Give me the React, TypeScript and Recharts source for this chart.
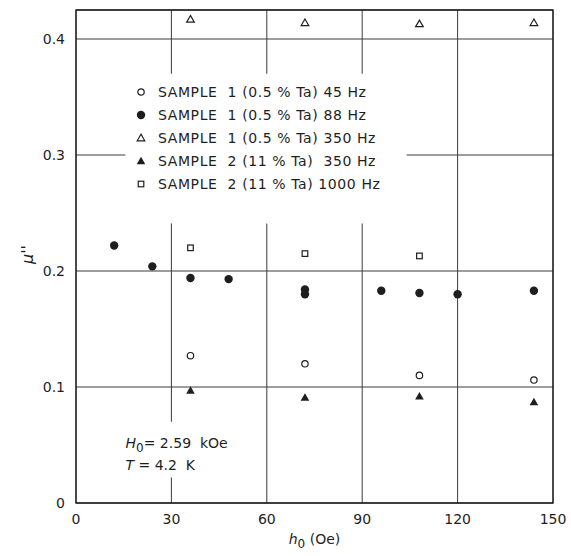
import React from "react";
import {
  CartesianGrid,
  Label,
  ReferenceArea,
  Scatter,
  ScatterChart,
  XAxis,
  YAxis,
} from "recharts";

// h0 (Oe) positions and mu'' readings, per series
const s1Hz45X = [36, 72, 108, 144];
const s1Hz45Y = [0.127, 0.12, 0.11, 0.106];

const s1Hz88X = [12, 24, 36, 48, 72, 72, 96, 108, 120, 144];
const s1Hz88Y = [0.222, 0.204, 0.194, 0.193, 0.184, 0.18, 0.183, 0.181, 0.18, 0.183];

const s1Hz350X = [36, 72, 108, 144];
const s1Hz350Y = [0.417, 0.414, 0.413, 0.414];

const s2Hz350X = [36, 72, 108, 144];
const s2Hz350Y = [0.097, 0.091, 0.092, 0.087];

const s2Hz1000X = [36, 72, 108];
const s2Hz1000Y = [0.22, 0.215, 0.213];

const xTicks = [0, 30, 60, 90, 120, 150];
const yTicks = [0, 0.1, 0.2, 0.3, 0.4];

const legendLabels = [
  "SAMPLE  1 (0.5 % Ta) 45 Hz",
  "SAMPLE  1 (0.5 % Ta) 88 Hz",
  "SAMPLE  1 (0.5 % Ta) 350 Hz",
  "SAMPLE  2 (11 % Ta)  350 Hz",
  "SAMPLE  2 (11 % Ta) 1000 Hz",
];

const ink = "#1e1e1e";
const font = "'DejaVu Sans', sans-serif";

const zip = (xs: number[], ys: number[]) => xs.map((x, i) => ({ x, y: ys[i] }));

type Kind = "openCircle" | "dot" | "openTri" | "tri" | "openSquare";

function Marker({ kind, cx, cy }: { kind: Kind; cx: number; cy: number }) {
  if (kind === "openCircle")
    return <circle cx={cx} cy={cy} r={3.2} fill="#fff" stroke={ink} strokeWidth={1.2} />;
  if (kind === "dot") return <circle cx={cx} cy={cy} r={4.2} fill={ink} />;
  if (kind === "openTri")
    return (
      <polygon
        points={`${cx},${cy - 3.8} ${cx - 3.8},${cy + 2.8} ${cx + 3.8},${cy + 2.8}`}
        fill="#fff"
        stroke={ink}
        strokeWidth={1.2}
      />
    );
  if (kind === "tri")
    return (
      <polygon
        points={`${cx},${cy - 4.3} ${cx - 4.3},${cy + 3.2} ${cx + 4.3},${cy + 3.2}`}
        fill={ink}
      />
    );
  return (
    <rect x={cx - 2.8} y={cy - 2.8} width={5.6} height={5.6} fill="#fff" stroke={ink} strokeWidth={1.2} />
  );
}

const kinds: Kind[] = ["openCircle", "dot", "openTri", "tri", "openSquare"];

const shapeFor = (kind: Kind) => (p: any) => <Marker kind={kind} cx={p.cx} cy={p.cy} />;

function LegendBox() {
  return (
    <div
      style={{
        position: "absolute",
        left: 134,
        top: 80,
        fontFamily: font,
        fontSize: 14,
        color: ink,
        letterSpacing: 0.6,
      }}
    >
      {legendLabels.map((t, i) => (
        <div key={t} style={{ height: 23, display: "flex", alignItems: "center", whiteSpace: "pre" }}>
          <svg width={14} height={14} style={{ marginRight: 10 }}>
            <Marker kind={kinds[i]} cx={7} cy={7} />
          </svg>
          {t}
        </div>
      ))}
    </div>
  );
}

function XLabel({ viewBox }: any) {
  const { x, y, width } = viewBox;
  return (
    <text x={x + width / 2} y={y + 41} textAnchor="middle" fontFamily={font} fontSize={14} fill={ink}>
      <tspan fontStyle="italic">h</tspan>
      <tspan dy={4} fontSize={12}>0</tspan>
      <tspan dy={-4}> (Oe)</tspan>
    </text>
  );
}

function YLabel({ viewBox }: any) {
  const { y, height } = viewBox;
  const cx = 27;
  const cy = y + height / 2 - 2;
  return (
    <text
      x={cx}
      y={cy}
      transform={`rotate(-90 ${cx} ${cy})`}
      textAnchor="middle"
      dominantBaseline="central"
      fontFamily={font}
      fontSize={16}
      fontStyle="italic"
      fill={ink}
    >
      μ''
    </text>
  );
}

function NoteLabel({ viewBox }: any) {
  const { x, y } = viewBox;
  return (
    <text fontFamily={font} fontSize={14} fill={ink}>
      <tspan x={x + 5} y={y + 26} fontStyle="italic">H</tspan>
      <tspan dy={4} fontSize={12}>0</tspan>
      <tspan dy={-4} style={{ whiteSpace: "pre" }}>= 2.59  kOe</tspan>
      <tspan x={x + 5} y={y + 48} fontStyle="italic">T</tspan>
      <tspan style={{ whiteSpace: "pre" }}> = 4.2  K</tspan>
    </text>
  );
}

const tickStyle = { fontFamily: font, fontSize: 14, fill: ink };

export default function App() {
  return (
    <div style={{ position: "absolute", left: 0, top: 0, width: 571, height: 556, background: "#fff" }}>
      <ScatterChart width={571} height={556} margin={{ top: 10, right: 18, bottom: 13, left: 16 }}>
        <CartesianGrid stroke="#3a3a3a" strokeWidth={1} />
        <XAxis
          type="number"
          dataKey="x"
          domain={[0, 150]}
          ticks={xTicks}
          height={40}
          tickSize={0}
          tickMargin={11}
          axisLine={false}
          tick={tickStyle}
        >
          <Label content={<XLabel />} />
        </XAxis>
        <YAxis
          type="number"
          dataKey="y"
          domain={[0, 0.425]}
          ticks={yTicks}
          width={60}
          tickSize={0}
          tickMargin={11}
          axisLine={false}
          tick={tickStyle}
          tickFormatter={(v: number) => (v === 0 ? "0" : v.toFixed(1))}
        >
          <Label content={<YLabel />} />
        </YAxis>
        <ReferenceArea x1={15.5} x2={104} y1={0.241} y2={0.37} fill="#fff" fillOpacity={1} stroke="none" />
        <ReferenceArea
          x1={14}
          x2={48}
          y1={0.022}
          y2={0.07}
          fill="#fff"
          fillOpacity={1}
          stroke="none"
          label={<NoteLabel />}
        />
        <ReferenceArea x1={0} x2={150} y1={0} y2={0.425} fill="none" stroke={ink} strokeWidth={1.3} />
        <Scatter name={legendLabels[0]} data={zip(s1Hz45X, s1Hz45Y)} shape={shapeFor("openCircle")} isAnimationActive={false} />
        <Scatter name={legendLabels[1]} data={zip(s1Hz88X, s1Hz88Y)} shape={shapeFor("dot")} isAnimationActive={false} />
        <Scatter name={legendLabels[2]} data={zip(s1Hz350X, s1Hz350Y)} shape={shapeFor("openTri")} isAnimationActive={false} />
        <Scatter name={legendLabels[3]} data={zip(s2Hz350X, s2Hz350Y)} shape={shapeFor("tri")} isAnimationActive={false} />
        <Scatter name={legendLabels[4]} data={zip(s2Hz1000X, s2Hz1000Y)} shape={shapeFor("openSquare")} isAnimationActive={false} />
      </ScatterChart>
      <LegendBox />
    </div>
  );
}
